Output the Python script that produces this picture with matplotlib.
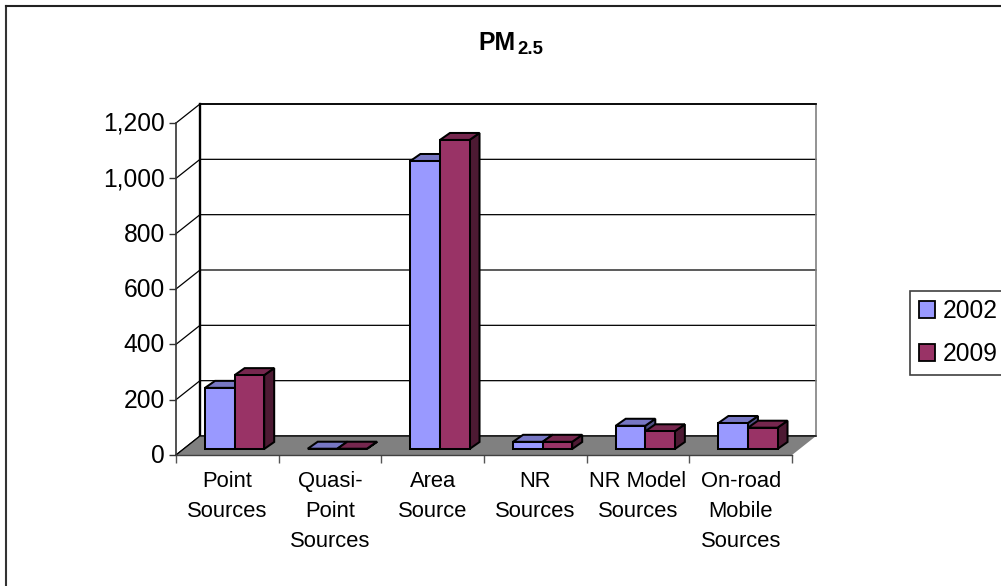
import matplotlib
matplotlib.use("Agg")
import matplotlib.pyplot as plt
from matplotlib.lines import Line2D
from matplotlib.patches import Patch, Polygon
from matplotlib.transforms import ScaledTranslation

plt.rcParams["font.family"] = ["Liberation Sans", "DejaVu Sans"]

# ========================
# 1. Chart Data
# ========================

categories = [
    "Point\nSources",
    "Quasi-\nPoint\nSources",
    "Area\nSource",
    "NR\nSources",
    "NR Model\nSources",
    "On-road\nMobile\nSources",
]
years = ["2002", "2009"]
values_2002 = [221, 1, 1041, 26, 84, 94]
values_2009 = [267, 1, 1117, 26, 64, 77]
y_ticks = [0, 200, 400, 600, 800, 1000, 1200]

front_colors = ["#9999FF", "#993366"]
top_colors = ["#7777C4", "#76274E"]
side_colors = ["#4F4F85", "#4D1A33"]

# ========================
# 2. Figure and Axes
# ========================

fig = plt.figure(figsize=(10.01, 5.86), dpi=100, facecolor="white")
ax = fig.add_axes([176 / 1001, 131 / 586, 616 / 1001, 332 / 586])
ax.set_xlim(0, len(categories))
ax.set_ylim(0, 1200)
ax.patch.set_visible(False)

# pixel sizes of the fake 3D depth, expressed in data units
px_x = len(categories) / 616
px_y = 1200 / 332
wall_dx = 24 * px_x
wall_dy = 19 * px_y
bar_dx = 10 * px_x
bar_dy = 7 * px_y
bar_lift = 6 * px_y
bar_offset = 0.283
bar_width = 0.288
n_cat = len(categories)

# ========================
# 3. Walls and Floor
# ========================

for v in y_ticks:
    ax.plot([0, wall_dx, n_cat + wall_dx], [v, v + wall_dy, v + wall_dy],
            color="black", lw=0.9, clip_on=False, zorder=1)

ax.plot([wall_dx, wall_dx], [wall_dy, 1200 + wall_dy], color="black", lw=1.7, clip_on=False, zorder=1.2)
ax.plot([n_cat + wall_dx, n_cat + wall_dx], [wall_dy, 1200 + wall_dy], color="#808080", lw=1.2, clip_on=False, zorder=1.2)
ax.plot([wall_dx, n_cat + wall_dx], [1200 + wall_dy, 1200 + wall_dy], color="black", lw=1.2, clip_on=False, zorder=1.2)

floor = Polygon([(0, 0), (n_cat, 0), (n_cat + wall_dx, wall_dy), (wall_dx, wall_dy)],
                closed=True, facecolor="#808080", edgecolor="none", clip_on=False, zorder=1.5)
ax.add_patch(floor)
ax.plot([0, wall_dx, n_cat + wall_dx], [0, wall_dy, wall_dy], color="black", lw=0.9, clip_on=False, zorder=1.6)

# ========================
# 4. Bars
# ========================

edge = {"edgecolor": "black", "linewidth": 1.45, "joinstyle": "miter", "clip_on": False}

for i in range(n_cat):
    for s, series in enumerate([values_2002, values_2009]):
        x0 = i + bar_offset + s * bar_width
        x1 = x0 + bar_width
        y0 = bar_lift
        y1 = bar_lift + series[i]
        z = 3 + i + s * 0.1
        ax.add_patch(Polygon([(x1, y0), (x1 + bar_dx, y0 + bar_dy), (x1 + bar_dx, y1 + bar_dy), (x1, y1)],
                             facecolor=side_colors[s], zorder=z, **edge))
        ax.add_patch(Polygon([(x0, y1), (x1, y1), (x1 + bar_dx, y1 + bar_dy), (x0 + bar_dx, y1 + bar_dy)],
                             facecolor=top_colors[s], zorder=z, **edge))
        ax.bar(x0, series[i], width=bar_width, bottom=bar_lift, align="edge",
               color=front_colors[s], zorder=z + 0.01, **edge)

# ========================
# 5. Axes, Labels, Legend
# ========================

for name in ["top", "right"]:
    ax.spines[name].set_visible(False)
ax.spines["left"].set_color("#333333")
ax.spines["left"].set_linewidth(1.2)
ax.spines["bottom"].set_color("#404040")
ax.spines["bottom"].set_linewidth(1.0)
ax.spines["left"].set_zorder(2)
ax.spines["bottom"].set_zorder(2)

ax.set_yticks(y_ticks)
ax.set_yticklabels([f"{v:,}" for v in y_ticks], fontsize=17.7)
ax.tick_params(axis="y", length=5, width=1, color="#333333", pad=3)

# nudge the value labels up a little from their ticks
nudge = ScaledTranslation(0, 1.5 / 100, fig.dpi_scale_trans)
for tick_label in ax.get_yticklabels():
    tick_label.set_transform(tick_label.get_transform() + nudge)

ax.set_xticks(range(n_cat + 1))
ax.set_xticklabels([""] * (n_cat + 1))
ax.tick_params(axis="x", length=6, width=1, color="#555555")
for i, label in enumerate(categories):
    ax.annotate(label, xy=(i + 0.5, 0), xycoords="data", xytext=(0, -11.5), textcoords="offset points",
                ha="center", va="top", fontsize=15.8, linespacing=1.55, annotation_clip=False)

# title: PM with the 2.5 set as a lowered, smaller run
fig.text(478.5 / 1001, 1 - 50 / 586, "PM", ha="left", va="baseline", fontsize=17.8, fontweight="bold")
fig.text(517 / 1001, 1 - 54 / 586, "2.5", ha="left", va="baseline", fontsize=13.4, fontweight="bold")

handles = [Patch(facecolor=c, edgecolor="black", linewidth=1.3) for c in front_colors]
legend = fig.legend(handles, years, loc="lower left", bbox_to_anchor=(910 / 1001, 1 - 375 / 586),
                    borderaxespad=0, fontsize=17.7, handlelength=0.67, handleheight=0.67,
                    handletextpad=0.33, labelspacing=0.78, borderpad=0.35,
                    fancybox=False, framealpha=1, edgecolor="#404040")
legend.get_frame().set_linewidth(1.2)

# outer chart frame, open on the right and bottom
fig.add_artist(Line2D([5.5 / 1001, 5.5 / 1001], [0, 1 - 5.5 / 586], color="#333333", lw=1.5))
fig.add_artist(Line2D([5.5 / 1001, 1], [1 - 5.5 / 586, 1 - 5.5 / 586], color="#222222", lw=1.5))

fig.savefig("out.png", dpi=100)
